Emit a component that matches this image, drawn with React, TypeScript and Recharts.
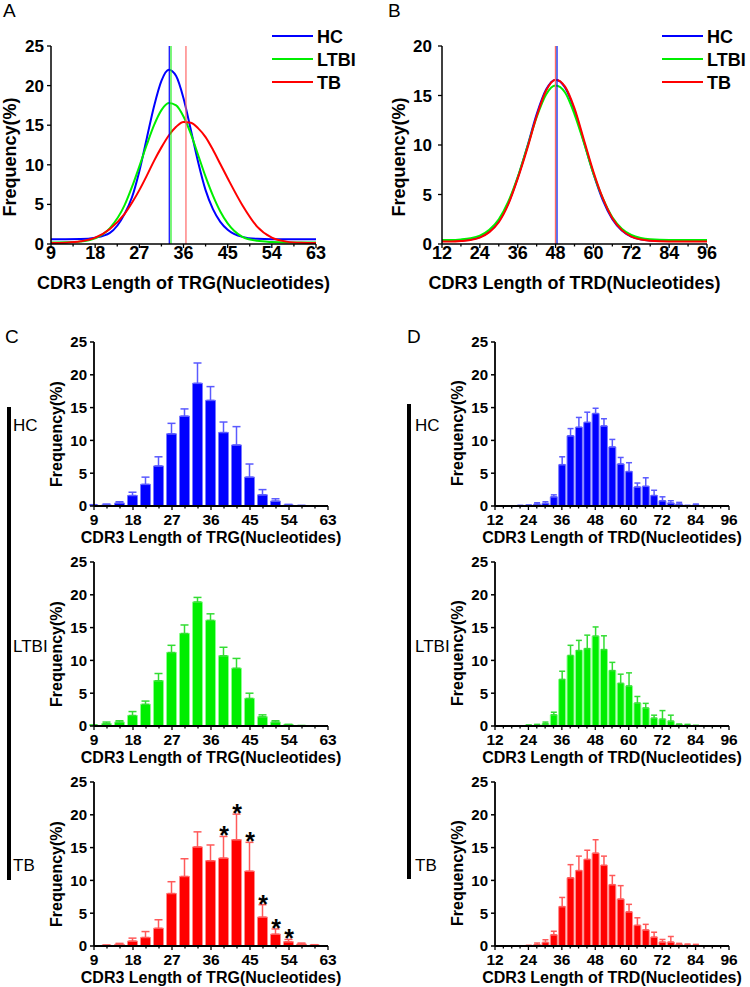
import React from "react";
import {
  LineChart,
  Line,
  ComposedChart,
  Bar,
  ErrorBar,
  Scatter,
  XAxis,
  YAxis,
  ReferenceLine,
  Legend
} from "recharts";

const FONT = '"Liberation Sans", Arial, Helvetica, sans-serif';

// ---- Panel A: fitted curves of TRG CDR3 length ----
const trgCurveX = [9, 12, 15, 18, 21, 24, 25.5, 27, 28.5, 30, 31.5, 33, 34.5, 36, 37.5, 39, 40.5, 42, 43.5, 45, 48, 51, 54, 57, 60, 63];
const trgCurveHC = [0.6, 0.6, 0.62, 0.8, 1.4, 3.8, 5.9, 9.2, 13.3, 17.4, 20.6, 22.0, 21.2, 18.4, 14.4, 10.3, 6.8, 4.4, 2.8, 1.8, 0.9, 0.65, 0.6, 0.6, 0.6, 0.6];
const trgCurveLTBI = [0.2, 0.22, 0.3, 0.7, 2.0, 4.9, 7.2, 9.8, 12.5, 15.0, 16.9, 17.8, 17.5, 16.1, 13.9, 11.2, 8.5, 6.1, 4.1, 2.6, 0.9, 0.4, 0.25, 0.2, 0.2, 0.2];
const trgCurveTB = [0.12, 0.17, 0.34, 0.8, 1.9, 3.8, 5.2, 6.8, 8.6, 10.5, 12.2, 13.7, 14.8, 15.4, 15.3, 14.6, 13.5, 11.9, 10.1, 8.3, 4.9, 2.2, 0.8, 0.3, 0.15, 0.12];
const trgMeans = [33.1, 33.45, 36.5]; // HC, LTBI, TB

// ---- Panel B: fitted curves of TRD CDR3 length ----
const trdCurveX = [12, 15, 18, 21, 24, 27, 30, 33, 36, 39, 42, 45, 48, 51, 54, 57, 60, 63, 66, 69, 72, 75, 78, 84, 90, 96];
const trdCurveHC = [0.3, 0.3, 0.35, 0.45, 0.7, 1.25, 2.3, 4.1, 6.7, 9.8, 13.1, 15.6, 16.6, 15.8, 13.5, 10.3, 7.1, 4.4, 2.5, 1.36, 0.75, 0.47, 0.36, 0.3, 0.3, 0.3];
const trdCurveLTBI = [0.4, 0.4, 0.46, 0.58, 0.85, 1.44, 2.5, 4.27, 6.75, 9.76, 12.8, 15.1, 16.0, 15.3, 13.1, 10.2, 7.1, 4.6, 2.7, 1.55, 0.91, 0.6, 0.47, 0.4, 0.4, 0.4];
const trdCurveTB = [0.25, 0.25, 0.3, 0.4, 0.65, 1.2, 2.2, 4.0, 6.6, 9.6, 12.9, 15.5, 16.6, 15.9, 13.7, 10.5, 7.3, 4.6, 2.6, 1.4, 0.75, 0.45, 0.33, 0.25, 0.25, 0.25];
const trdMeans = [48.45, 48.0, 47.95];

// ---- Panel C: TRG length distribution (mean + SD) ----
const trgBarX = [9, 12, 15, 18, 21, 24, 27, 30, 33, 36, 39, 42, 45, 48, 51, 54, 57, 60];
const trgHcFreq = [0.1, 0.15, 0.45, 1.6, 3.3, 6.1, 11.0, 13.7, 18.7, 16.1, 11.2, 9.3, 4.4, 1.7, 0.75, 0.15, 0.05, 0];
const trgHcErr = [0.1, 0.15, 0.2, 0.5, 1.1, 1.4, 1.6, 1.1, 3.1, 2.1, 1.6, 2.8, 2.0, 0.8, 0.35, 0.1, 0.05, 0];
const trgLtbiFreq = [0.1, 0.35, 0.6, 1.6, 3.3, 6.9, 11.2, 14.1, 18.9, 16.1, 10.7, 8.8, 4.2, 1.4, 0.6, 0.2, 0.05, 0];
const trgLtbiErr = [0.05, 0.25, 0.2, 0.6, 0.5, 1.1, 1.1, 1.3, 0.7, 1.0, 1.3, 1.5, 0.8, 0.3, 0.2, 0.05, 0.02, 0];
const trgTbFreq = [0, 0.1, 0.25, 0.75, 1.3, 2.7, 8.0, 10.6, 15.1, 13.0, 13.4, 16.2, 11.4, 4.4, 1.8, 0.65, 0.3, 0.15];
const trgTbErr = [0, 0.05, 0.15, 0.45, 0.9, 1.3, 1.8, 2.7, 2.3, 2.4, 3.3, 3.9, 4.4, 1.9, 0.8, 0.35, 0.15, 0.05];
const trgTbSignificant = [39, 42, 45, 48, 51, 54];

// ---- Panel D: TRD length distribution (mean + SD) ----
const trdBarX = [21, 24, 27, 30, 33, 36, 39, 42, 45, 48, 51, 54, 57, 60, 63, 66, 69, 72, 75, 78, 81, 84, 87];
const trdHcFreq = [0.05, 0.1, 0.3, 0.4, 1.4, 6.3, 10.7, 12.0, 12.75, 14.1, 12.2, 9.0, 6.4, 5.25, 2.9, 3.0, 1.6, 0.8, 0.45, 0.3, 0.05, 0.15, 0];
const trdHcErr = [0.05, 0.05, 0.2, 0.25, 0.3, 1.2, 1.1, 1.5, 1.55, 0.8, 1.1, 1.15, 1.0, 1.35, 0.6, 1.3, 0.8, 0.6, 0.35, 0.25, 0.05, 0.15, 0];
const trdLtbiFreq = [0, 0.1, 0.15, 0.35, 1.7, 7.1, 10.75, 11.5, 11.8, 13.7, 11.65, 8.45, 6.5, 6.1, 3.5, 2.75, 1.2, 1.05, 0.75, 0.2, 0.1, 0.05, 0];
const trdLtbiErr = [0, 0.05, 0.1, 0.25, 0.4, 1.25, 1.55, 1.55, 2.05, 1.4, 2.1, 1.25, 1.4, 2.0, 1.0, 0.7, 0.45, 1.3, 0.9, 0.1, 0.15, 0.05, 0];
const trdTbFreq = [0, 0.05, 0.2, 0.55, 1.7, 6.0, 10.4, 11.5, 13.2, 14.15, 12.3, 9.35, 7.15, 5.2, 3.15, 2.45, 1.35, 0.6, 0.6, 0.25, 0.15, 0.1, 0];
const trdTbErr = [0, 0.05, 0.25, 0.4, 0.55, 1.4, 2.0, 2.2, 1.4, 2.05, 1.4, 1.4, 2.05, 1.15, 1.15, 0.85, 0.75, 0.4, 0.85, 0.15, 0.15, 0.15, 0];

// ---- axis ticks ----
const trgMajor = [9, 18, 27, 36, 45, 54, 63];
const trgCurveMinor = [13.5, 22.5, 31.5, 40.5, 49.5, 58.5];
const trgBarMinor = [12, 15, 21, 24, 30, 33, 39, 42, 48, 51, 57, 60];
const trdMajor = [12, 24, 36, 48, 60, 72, 84, 96];
const trdCurveMinor = [18, 30, 42, 54, 66, 78, 90];
const trdBarMinor = [15, 18, 21, 27, 30, 33, 39, 42, 45, 51, 54, 57, 63, 66, 69, 75, 78, 81, 87, 90, 93];
const freqTicks25 = [0, 5, 10, 15, 20, 25];
const freqTicks20 = [0, 5, 10, 15, 20];

const groups = [
  { key: "hc", name: "HC", color: "#0000ff" },
  { key: "ltbi", name: "LTBI", color: "#00ee00" },
  { key: "tb", name: "TB", color: "#ff0000" }
];
const refColors = ["#0000ff", "#22ee22", "#ff6666"];

const sortTicks = (a: number[], b: number[]) => [...a, ...b].sort((p, q) => p - q);

// x-axis tick: long mark + label on major values, short mark on minor ones
const AxisTick = (props: any) => {
  const { x, y, payload, majors, fontSize, labelDy } = props;
  const isMajor = majors.includes(payload.value);
  return (
    <g>
      <line x1={x} x2={x} y1={y} y2={y + (isMajor ? 4 : 2.5)} stroke="#000" strokeWidth={1.3} />
      {isMajor && (
        <text x={x} y={y + labelDy} textAnchor="middle" fontSize={fontSize} fontWeight="bold" fontFamily={FONT} fill="#000">
          {payload.value}
        </text>
      )}
    </g>
  );
};

const CurveLegend = () => (
  <svg width={100} height={76} style={{ overflow: "visible" }}>
    {groups.map((g, i) => (
      <g key={g.key}>
        <line x1={0} x2={41} y1={12 + i * 23} y2={12 + i * 23} stroke={g.color} strokeWidth={2} />
        <text x={45} y={12 + i * 23 + 6.5} fontSize={18} fontWeight="bold" fontFamily={FONT} fill="#000">
          {g.name}
        </text>
      </g>
    ))}
  </svg>
);

const CurvePanel = ({ left, rows, domainX, majors, minors, yDomain, yTicks, means, title, yWidth, marginRight, legendLeft, yTitleOffset, yTickMargin }: any) => (
  <div style={{ position: "absolute", left, top: 0 }}>
    <LineChart width={375} height={300} data={rows} margin={{ top: 46, right: marginRight, bottom: 0, left: 0 }}>
      <XAxis
        type="number"
        dataKey="x"
        domain={domainX}
        ticks={sortTicks(majors, minors)}
        interval={0}
        tick={(p: any) => <AxisTick {...p} majors={majors} fontSize={18} labelDy={15} />}
        tickLine={false}
        tickSize={0}
        tickMargin={0}
        height={56}
        axisLine={{ stroke: "#000", strokeWidth: 1.5 }}
        label={{
          value: title,
          position: "insideBottom",
          offset: 11,
          style: { fontSize: 18, fontWeight: "bold", fill: "#000", fontFamily: FONT }
        }}
      />
      <YAxis
        domain={yDomain}
        ticks={yTicks}
        interval={0}
        width={yWidth}
        tickSize={4}
        tickMargin={yTickMargin}
        tick={{ fontSize: 17, fontWeight: "bold", fill: "#000", fontFamily: FONT }}
        tickLine={{ stroke: "#000", strokeWidth: 1.3 }}
        axisLine={{ stroke: "#000", strokeWidth: 1.5 }}
        label={{
          value: "Frequency(%)",
          angle: -90,
          position: "insideLeft",
          offset: yTitleOffset,
          dy: 12,
          style: { textAnchor: "middle", fontSize: 18, fontWeight: "bold", fill: "#000", fontFamily: FONT }
        }}
      />
      {groups.map((g) => (
        <Line
          key={g.key}
          type="monotone"
          dataKey={g.key}
          stroke={g.color}
          strokeWidth={2}
          dot={false}
          isAnimationActive={false}
        />
      ))}
      {means.map((m: number, i: number) => (
        <ReferenceLine key={i} x={m} stroke={refColors[i]} strokeWidth={1.2} />
      ))}
      <Legend
        layout="vertical"
        align="center"
        verticalAlign="middle"
        content={() => <CurveLegend />}
        wrapperStyle={{ left: legendLeft, top: 24, width: 100 }}
      />
    </LineChart>
  </div>
);

const Asterisk = (props: any) => (
  <text x={props.cx} y={props.cy + 8} textAnchor="middle" fontSize={25} fontWeight="bold" fontFamily={FONT} fill="#000">
    *
  </text>
);

const BarPanel = ({ left, top, xs, freq, err, sig, domainX, majors, minors, color, edge, whisker, barSize, capWidth, title, yWidth, marginRight, yTitleOffset, yTitleDy }: any) => {
  const rows = xs
    .map((x: number, i: number) => ({ x, freq: freq[i], err: [0, err[i]] }))
    .filter((r: any) => r.freq > 0);
  const stars = (sig || []).map((x: number) => {
    const i = xs.indexOf(x);
    return { x, top: freq[i] + err[i] };
  });
  return (
    <div style={{ position: "absolute", left, top }}>
      <ComposedChart width={375} height={222} data={rows} margin={{ top: 12, right: marginRight, bottom: 0, left: 0 }}>
        <XAxis
          type="number"
          dataKey="x"
          domain={domainX}
          allowDataOverflow
          ticks={sortTicks(majors, minors)}
          interval={0}
          tick={(p: any) => <AxisTick {...p} majors={majors} fontSize={15.5} labelDy={19} />}
          tickLine={false}
          tickSize={0}
          tickMargin={0}
          height={46}
          axisLine={{ stroke: "#000", strokeWidth: 1.8 }}
          label={{
            value: title,
            position: "insideBottom",
            offset: 9,
            style: { fontSize: 16, fontWeight: "bold", fill: "#000", fontFamily: FONT }
          }}
        />
        <YAxis
          domain={[0, 25]}
          ticks={freqTicks25}
          interval={0}
          width={yWidth}
          tickSize={4}
          tickMargin={3}
          tick={{ fontSize: 15, fontWeight: "bold", fill: "#000", fontFamily: FONT }}
          tickLine={{ stroke: "#000", strokeWidth: 1.5 }}
          axisLine={{ stroke: "#000", strokeWidth: 1.8 }}
          label={{
            value: "Frequency(%)",
            angle: -90,
            position: "insideLeft",
            offset: yTitleOffset,
            dy: yTitleDy,
            style: { textAnchor: "middle", fontSize: 16, fontWeight: "bold", fill: "#000", fontFamily: FONT }
          }}
        />
        <Bar dataKey="freq" fill={color} stroke={edge} strokeWidth={1} barSize={barSize} isAnimationActive={false}>
          <ErrorBar dataKey="err" width={capWidth} stroke={whisker} strokeWidth={1.5} direction="y" />
        </Bar>
        {stars.length > 0 && (
          <Scatter data={stars} dataKey="top" shape={Asterisk} isAnimationActive={false} />
        )}
      </ComposedChart>
    </div>
  );
};

const palette = {
  hc: { color: "#0000ff", edge: "#7a7aff", whisker: "#5a5aff" },
  ltbi: { color: "#00ee00", edge: "#8cff8c", whisker: "#33dd33" },
  tb: { color: "#ff0000", edge: "#ff8a8a", whisker: "#ff5a5a" }
};

export default function App() {
  const trgRows = trgCurveX.map((x, i) => ({ x, hc: trgCurveHC[i], ltbi: trgCurveLTBI[i], tb: trgCurveTB[i] }));
  const trdRows = trdCurveX.map((x, i) => ({ x, hc: trdCurveHC[i], ltbi: trdCurveLTBI[i], tb: trdCurveTB[i] }));

  const trgCommon = {
    left: 0, xs: trgBarX, domainX: [9, 63], majors: trgMajor, minors: trgBarMinor,
    barSize: 10, capWidth: 4, title: "CDR3 Length of TRG(Nucleotides)",
    yWidth: 94, marginRight: 47, yTitleOffset: 56, yTitleDy: 10
  };
  const trdCommon = {
    left: 375, xs: trdBarX, domainX: [12, 96], majors: trdMajor, minors: trdBarMinor,
    barSize: 7, capWidth: 3, title: "CDR3 Length of TRD(Nucleotides)",
    yWidth: 120, marginRight: 21, yTitleOffset: 82, yTitleDy: 9
  };
  const rowTops = [330, 550, 770];
  const groupY = [431, 652, 871];

  return (
    <div style={{ position: "absolute", left: 0, top: 0, width: 750, height: 987, background: "#fff", overflow: "hidden", fontFamily: FONT }}>
      <svg width={750} height={987} style={{ position: "absolute", left: 0, top: 0 }}>
        <text x={3} y={17} fontSize={19} fontFamily={FONT}>A</text>
        <text x={388} y={17} fontSize={19} fontFamily={FONT}>B</text>
        <text x={5} y={343} fontSize={19} fontFamily={FONT}>C</text>
        <text x={407} y={343} fontSize={19} fontFamily={FONT}>D</text>
        <rect x={7} y={407} width={4} height={473} fill="#000" />
        <rect x={407} y={404} width={4} height={475} fill="#000" />
        {groups.map((g, i) => (
          <g key={g.key}>
            <text x={13} y={groupY[i]} fontSize={17} fontFamily={FONT}>{g.name}</text>
            <text x={415} y={groupY[i]} fontSize={17} fontFamily={FONT}>{g.name}</text>
          </g>
        ))}
      </svg>

      <CurvePanel
        left={0}
        rows={trgRows}
        domainX={[9, 63]}
        majors={trgMajor}
        minors={trgCurveMinor}
        yDomain={[0, 25]}
        yTicks={freqTicks25}
        means={trgMeans}
        title="CDR3 Length of TRG(Nucleotides)"
        yWidth={51}
        marginRight={59}
        legendLeft={272}
        yTitleOffset={10}
        yTickMargin={3}
      />
      <CurvePanel
        left={375}
        rows={trdRows}
        domainX={[12, 96]}
        majors={trdMajor}
        minors={trdCurveMinor}
        yDomain={[0, 20]}
        yTicks={freqTicks20}
        means={trdMeans}
        title="CDR3 Length of TRD(Nucleotides)"
        yWidth={67}
        marginRight={43}
        legendLeft={287}
        yTitleOffset={24}
        yTickMargin={6}
      />

      <BarPanel {...trgCommon} top={rowTops[0]} freq={trgHcFreq} err={trgHcErr} {...palette.hc} />
      <BarPanel {...trgCommon} top={rowTops[1]} freq={trgLtbiFreq} err={trgLtbiErr} {...palette.ltbi} />
      <BarPanel {...trgCommon} top={rowTops[2]} freq={trgTbFreq} err={trgTbErr} sig={trgTbSignificant} {...palette.tb} />

      <BarPanel {...trdCommon} top={rowTops[0]} freq={trdHcFreq} err={trdHcErr} {...palette.hc} />
      <BarPanel {...trdCommon} top={rowTops[1]} freq={trdLtbiFreq} err={trdLtbiErr} {...palette.ltbi} />
      <BarPanel {...trdCommon} top={rowTops[2]} freq={trdTbFreq} err={trdTbErr} {...palette.tb} />
    </div>
  );
}
